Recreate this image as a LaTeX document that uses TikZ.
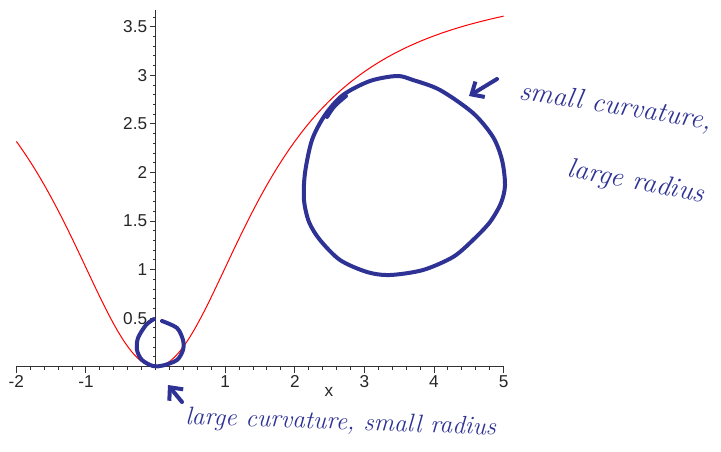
\documentclass[tikz,border=0pt]{standalone}
\usepackage{fontspec}
\newfontfamily\axisfont{Liberation Sans}
\usetikzlibrary{arrows.meta, positioning}

\definecolor{pen}{RGB}{46,50,148}

\tikzset{
  axisline/.style={black!80, line width=0.5pt},
  ticklabel/.style={font=\axisfont\fontsize{8.6}{10}\selectfont, black!85, inner sep=1pt},
  ink/.style={pen, line width=2pt, line cap=round, line join=round},
  hand/.style={pen, font=\itshape\fontsize{14}{16}\selectfont, inner sep=0pt},
  px/.style={shift={(-2.2356,3.7765)}, x=0.5pt, y=-0.5pt}
}

\begin{document}
\begin{tikzpicture}[x=34.8pt, y=48.55pt]

\begin{scope}[px]
\useasboundingbox (0,0) rectangle (721,451);
\end{scope}

% axes
\draw [axisline] (-2, 0) -- (5, 0);
\draw [axisline] (0, 0) -- (0, 3.67);
\foreach \k in {-10,...,25} \draw [axisline] (\k/5, 0) -- ++(0, -1.5pt);
\foreach \k in {1,...,36} \draw [axisline] (0, \k/10) -- ++(-1.5pt, 0);
\foreach \k in {-2,-1,1,2,3,4,5}
  \draw [axisline] (\k, 0) -- ++(0, -3pt) node[ticklabel, below] (xl\k) {\k};
\foreach \v in {0.5,1,1.5,2,2.5,3,3.5}
  \draw [axisline] (0, \v) -- ++(-3pt, 0) node[ticklabel, left] (yl\v) {\v};
\node [ticklabel] (xname) at (2.49, -0.26) {x};

% curve
\draw [red, line width=0.5pt] plot[domain=-2:5, samples=120, smooth] (\x, {1.3635*\x*\x/(1+0.3377*\x*\x)});

% osculating circles, drawn by hand
\begin{scope}[px]
\draw [ink] plot[smooth] coordinates {(162,321) (177,328) (183,340) (183,350) (177,360) (163,365.5) (153,366) (142,360) (137,350) (138,338) (146,325) (154,319)};
\draw [ink] plot[smooth cycle] coordinates {(397,76) (413,80) (440,90) (473,113) (493,137) (502,160) (505,185) (501,203) (490,222) (473,240) (453,257) (423,270) (390,275) (367,272) (340,260) (320,240) (309,222) (304,200) (305,173) (312,140) (325,115) (343,95) (370,81)};
\draw [ink] (327,117) .. controls (334,106) .. (346,96);

\coordinate (bigtail) at (497,79);
\coordinate (bigtip) at (469,96);
\coordinate (smalltail) at (182,402);
\coordinate (smalltip) at (168,385);
\draw [ink, -{Straight Barb[length=5pt, width=9pt]}] (bigtail) -- (bigtip);
\draw [ink, -{Straight Barb[length=5pt, width=9pt]}] (smalltail) -- (smalltip);

\node [hand, rotate=-9, anchor=base west] (bigcap) at (518,99) {small curvature,};
\node [hand, rotate=-11, anchor=base west] (bigrad) at (566,176) {large radius};
\node [hand, rotate=-2, anchor=base west, font=\itshape\fontsize{12.7}{15}\selectfont] (smallcap) at (185,424) {large curvature, small radius};
\end{scope}

\end{tikzpicture}
\end{document}
